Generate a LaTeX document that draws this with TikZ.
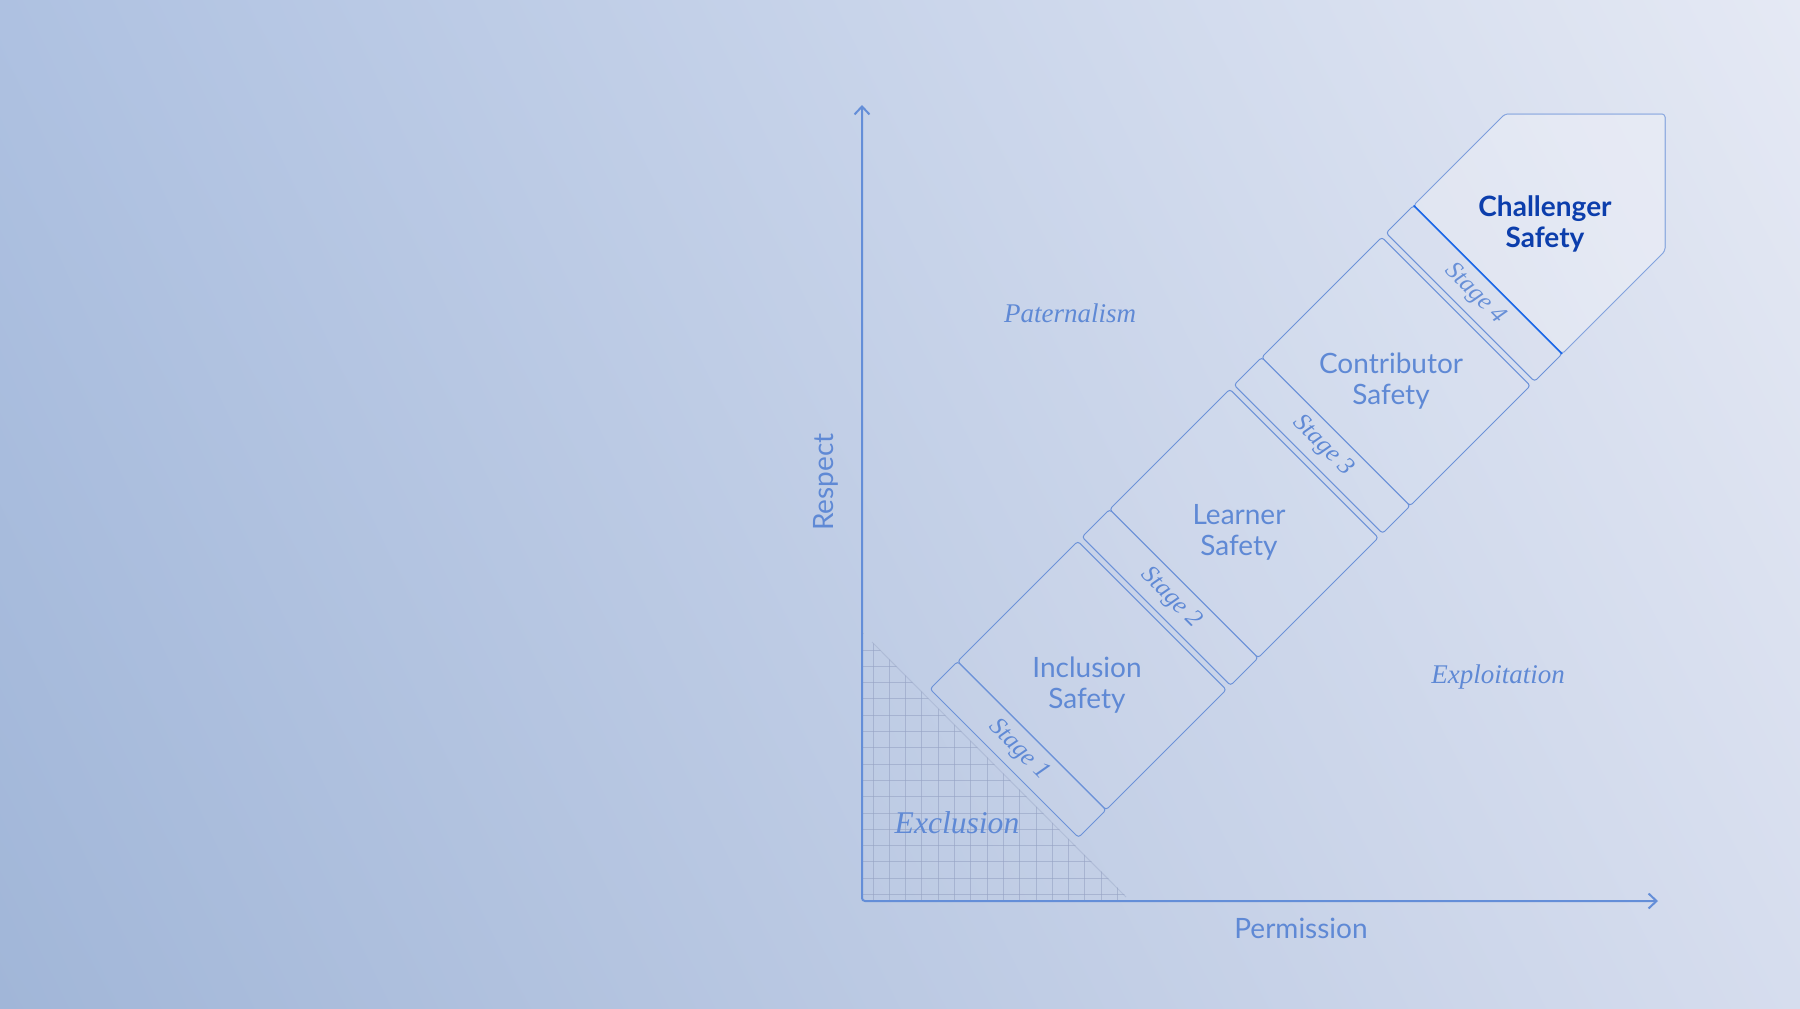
\documentclass[tikz,border=0pt]{standalone}
\usepackage{fontspec}
\usepackage{tikz}
\usetikzlibrary{arrows.meta,shadings}
\newfontfamily\labelfont{Lato}
\newfontfamily\zonefont{Liberation Serif}
\definecolor{bgleftlow}{RGB}{161,182,216}
\definecolor{bglefttop}{RGB}{174,193,225}
\definecolor{bgrightlow}{RGB}{214,221,238}
\definecolor{bgrighttop}{RGB}{229,233,244}
\definecolor{axisblue}{RGB}{100,142,216}
\definecolor{lineblue}{RGB}{108,146,216}
\definecolor{textblue}{RGB}{95,137,213}
\definecolor{deepblue}{RGB}{12,62,172}
\definecolor{brightblue}{RGB}{28,104,232}
\definecolor{gridgrey}{RGB}{150,163,196}

\begin{document}
\begin{tikzpicture}[x=0.5pt, y=-0.5pt]
\tikzstyle{axisline}=[axisblue, line width=1pt, rounded corners=1.5pt, {Straight Barb[length=4pt,width=7.5pt]}-{Straight Barb[length=4pt,width=7.5pt]}]
\tikzstyle{unitbox}=[lineblue, line width=0.5pt, rounded corners=1.5pt, fill=white, fill opacity=0.06]
\tikzstyle{gridline}=[gridgrey, line width=0.5pt, opacity=0.6]
\tikzstyle{safetylabel}=[textblue, font=\labelfont\fontsize{14}{15.5}\selectfont, align=center, inner sep=0pt]
\tikzstyle{stagelabel}=[textblue, font=\zonefont\itshape\fontsize{12.6}{12.6}\selectfont, rotate=-45, inner sep=0pt]
\tikzstyle{zonelabel}=[textblue, font=\zonefont\itshape\fontsize{13.5}{13.5}\selectfont, anchor=base, inner sep=0pt]
\tikzstyle{axislabel}=[textblue, font=\labelfont\fontsize{14}{14}\selectfont, anchor=base, inner sep=0pt]
\useasboundingbox (0,0) rectangle (1800,1008);
\shade[lower left=bgleftlow, upper left=bglefttop, lower right=bgrightlow, upper right=bgrighttop] (0,0) rectangle (1800,1008);

\begin{scope}
  \clip (862,632) -- (862,901) -- (1131,901) -- cycle;
  \foreach \k in {0,...,15}
    \draw[gridline] ({873+16.3*\k},620) -- ++(0,290);
  \foreach \k in {-1,...,15}
    \draw[gridline] (850,{650+16.3*\k}) -- ++(300,0);
\end{scope}
\draw[gridgrey, line width=0.5pt, opacity=0.4] (872,642) -- (1126,897);

\coordinate (origin) at (862,901);
\coordinate (ytop) at (862,105);
\coordinate (xend) at (1658,901);
\draw[axisline] (ytop) |- (xend);
\node[axislabel] (permission) at (1301,938) {Permission};
\node[axislabel, rotate=90] (respect) at (833,482) {Respect};

\begin{scope}[shift={(930,689)}, rotate=45]
  \foreach \i/\name in {0/Inclusion, 1/Learner, 2/Contributor} {
    \draw[unitbox] ({215*\i},0) rectangle ++(39,210);
    \draw[unitbox] ({215*\i+39},0) rectangle ++(170,210);
    \node[safetylabel] (safety\i) at ({215*\i+114},108) {\name\\Safety};
  }
  \foreach \i/\n in {0/1, 1/2, 2/3, 3/4}
    \node[stagelabel] (stage\n) at ({215*\i+19.5},106) {Stage \n};
  \draw[unitbox] (645,0) rectangle ++(39,210);
  \coordinate (div-a) at (684,0);
  \coordinate (div-b) at (684,210);
\end{scope}

\draw[unitbox] (div-a) -- (1505,114) -- (1665,114) -- (1665,251) -- (div-b) -- cycle;
\fill[white, opacity=0.22] (div-a) -- (1505,114) -- (1665,114) -- (1665,251) -- (div-b) -- cycle;
\draw[brightblue, line width=0.8pt] (div-a) -- (div-b);
\node[safetylabel, text=deepblue, font=\labelfont\bfseries\fontsize{14}{15.5}\selectfont] (safety3) at (1545,224) {Challenger\\Safety};

\node[zonelabel] (paternalism) at (1070,322) {Paternalism};
\node[zonelabel] (exploitation) at (1498,683) {Exploitation};
\node[zonelabel, font=\zonefont\itshape\fontsize{15.8}{15.8}\selectfont] (exclusion) at (957,833) {Exclusion};
\end{tikzpicture}
\end{document}
